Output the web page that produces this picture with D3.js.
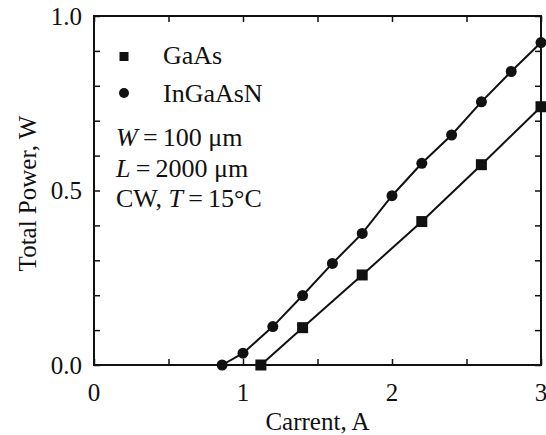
<!DOCTYPE html>
<html>
<head>
<meta charset="utf-8">
<script src="https://cdn.jsdelivr.net/npm/d3@7"></script>
<style>
  body { margin: 0; background: #fff; }
  text { font-family: "Liberation Serif", "Times New Roman", serif; fill: #111; }
</style>
</head>
<body>
<div id="chart"></div>
<script>
// data
var gaasCurrent = [1.12, 1.4, 1.8, 2.2, 2.6, 3.0];
var gaasPower = [0, 0.107, 0.258, 0.411, 0.574, 0.740];
var ingaasnCurrent = [0.86, 1.0, 1.2, 1.4, 1.6, 1.8, 2.0, 2.2, 2.4, 2.6, 2.8, 3.0];
var ingaasnPower = [0, 0.034, 0.110, 0.199, 0.291, 0.377, 0.485, 0.578, 0.659, 0.754, 0.841, 0.924];
var xTicks = [0, 1, 2, 3];
var yTicks = [0, 0.5, 1.0];

var width = 546, height = 435;
var margin = { top: 16, right: 5, bottom: 70, left: 94 };
var w = width - margin.left - margin.right,
    h = height - margin.top - margin.bottom;

var x = d3.scaleLinear().domain([0, 3]).range([0, w]);
var y = d3.scaleLinear().domain([0, 1]).range([h, 0]);

var svg = d3.select("#chart").append("svg")
    .attr("width", width).attr("height", height);
var g = svg.append("g")
    .attr("transform", "translate(" + margin.left + "," + margin.top + ")");

// inward ticks on all four sides
var minorX = d3.range(0, 3.01, 0.5);
var minorY = d3.range(0, 1.001, 0.1);

g.append("g").attr("transform", "translate(0," + h + ")")
    .call(d3.axisBottom(x).tickValues(minorX).tickSize(-6).tickFormat(""));
g.append("g")
    .call(d3.axisTop(x).tickValues(minorX).tickSize(-6).tickFormat(""));
g.append("g")
    .call(d3.axisLeft(y).tickValues(minorY).tickSize(-6).tickFormat(""));
g.append("g").attr("transform", "translate(" + w + ",0)")
    .call(d3.axisRight(y).tickValues(minorY).tickSize(-6).tickFormat(""));

g.selectAll(".domain").remove();
g.selectAll(".tick line").attr("stroke", "#111").attr("stroke-width", 1.5);

// frame
g.append("rect")
    .attr("width", w).attr("height", h)
    .attr("fill", "none").attr("stroke", "#111").attr("stroke-width", 2);

// tick labels
g.selectAll(".xlab").data(xTicks).enter().append("text")
    .attr("x", function (d) { return x(d); })
    .attr("y", h + 36)
    .attr("text-anchor", "middle")
    .style("font-size", "25px")
    .text(function (d) { return d; });

g.selectAll(".ylab").data(yTicks).enter().append("text")
    .attr("x", -12)
    .attr("y", function (d) { return y(d); })
    .attr("dy", "0.34em")
    .attr("text-anchor", "end")
    .style("font-size", "25px")
    .text(function (d) { return d.toFixed(1); });

// axis titles
g.append("text")
    .attr("x", w / 2).attr("y", h + 65)
    .attr("text-anchor", "middle")
    .style("font-size", "25px")
    .text("Carrent, A");

g.append("text")
    .attr("transform", "translate(" + (-margin.left + 36) + "," + (h / 2 + 3) + ") rotate(-90)")
    .attr("text-anchor", "middle")
    .style("font-size", "25px")
    .text("Total Power, W");

// series
var line = d3.line()
    .x(function (d) { return x(d[0]); })
    .y(function (d) { return y(d[1]); });

var gaas = d3.zip(gaasCurrent, gaasPower);
var ingaasn = d3.zip(ingaasnCurrent, ingaasnPower);

g.append("path").datum(ingaasn)
    .attr("d", line).attr("fill", "none")
    .attr("stroke", "#111").attr("stroke-width", 2);
g.append("path").datum(gaas)
    .attr("d", line).attr("fill", "none")
    .attr("stroke", "#111").attr("stroke-width", 2);

g.selectAll(".dot").data(ingaasn).enter().append("circle")
    .attr("cx", function (d) { return x(d[0]); })
    .attr("cy", function (d) { return y(d[1]); })
    .attr("r", 5.5).attr("fill", "#111");

g.selectAll(".sq").data(gaas).enter().append("rect")
    .attr("x", function (d) { return x(d[0]) - 5.5; })
    .attr("y", function (d) { return y(d[1]) - 5.5; })
    .attr("width", 11).attr("height", 11).attr("fill", "#111");

// legend
var leg = svg.append("g").style("font-size", "26px");
leg.append("rect").attr("x", 119.5).attr("y", 52).attr("width", 9).attr("height", 9).attr("fill", "#111");
leg.append("text").attr("x", 163).attr("y", 64).text("GaAs");
leg.append("circle").attr("cx", 124).attr("cy", 93).attr("r", 5).attr("fill", "#111");
leg.append("text").attr("x", 163).attr("y", 102).text("InGaAsN");

var note1 = leg.append("text").attr("x", 116).attr("y", 146);
note1.append("tspan").style("font-style", "italic").text("W");
note1.append("tspan").text("\u2009=\u2009100 μm");

var note2 = leg.append("text").attr("x", 116).attr("y", 177);
note2.append("tspan").style("font-style", "italic").text("L");
note2.append("tspan").text("\u2009=\u20092000 μm");

var note3 = leg.append("text").attr("x", 116).attr("y", 207);
note3.append("tspan").text("CW, ");
note3.append("tspan").style("font-style", "italic").text("T");
note3.append("tspan").text("\u2009=\u200915°C");
</script>
</body>
</html>
